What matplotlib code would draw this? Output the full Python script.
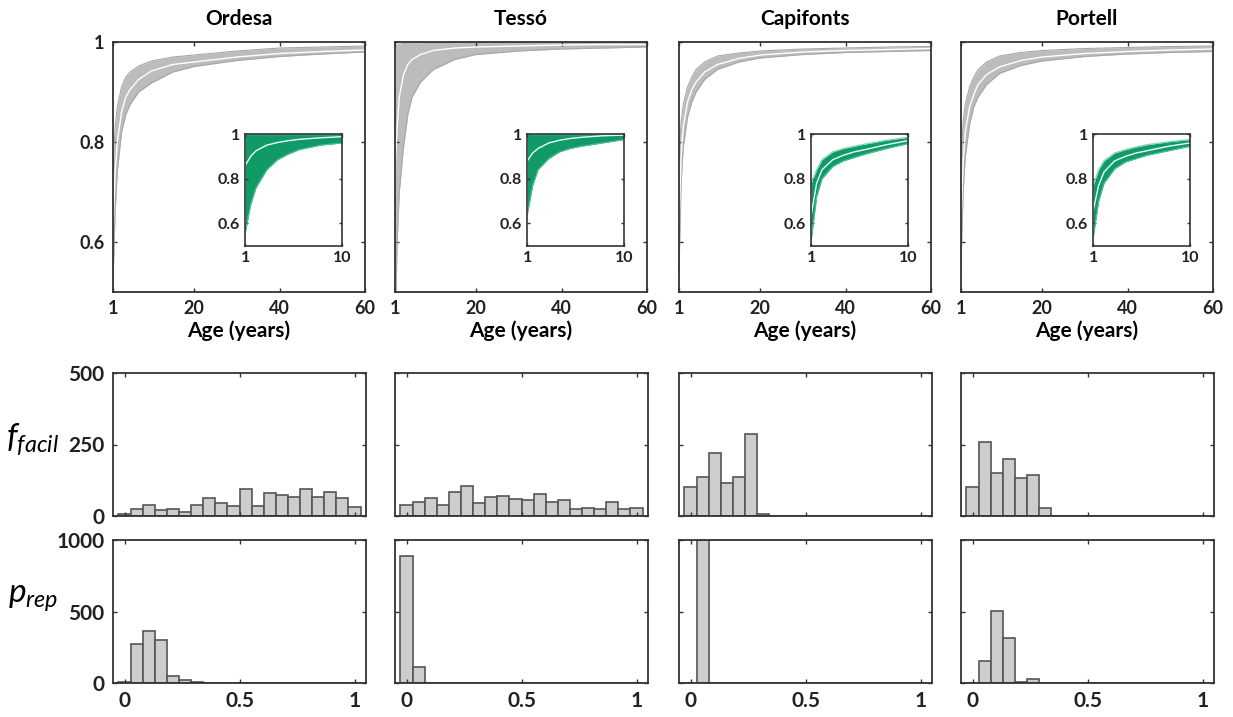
import numpy as np
import matplotlib
matplotlib.use('Agg')
import matplotlib.pyplot as plt

plt.rcParams['font.family'] = ['Lato', 'DejaVu Sans']
plt.rcParams['mathtext.fontset'] = 'custom'
plt.rcParams['mathtext.it'] = 'Lato:italic'
plt.rcParams['mathtext.rm'] = 'Lato'

sites = ['Ordesa', 'Tessó', 'Capifonts', 'Portell']

# survival curves (main panels)
ages_main = [1, 1.5, 2, 3, 4, 5, 7, 10, 15, 20, 30, 40, 50, 60]
main_upper = {
    'Ordesa':    [0.75, 0.83, 0.87, 0.91, 0.93, 0.94, 0.952, 0.962, 0.970, 0.974, 0.982, 0.988, 0.990, 0.992],
    'Tessó':     [0.99, 0.993, 0.995, 0.997, 0.998, 0.998, 0.999, 0.999, 0.999, 0.999, 0.999, 0.999, 0.999, 0.999],
    'Capifonts': [0.78, 0.84, 0.875, 0.91, 0.93, 0.945, 0.96, 0.972, 0.978, 0.982, 0.986, 0.988, 0.990, 0.991],
    'Portell':   [0.76, 0.84, 0.875, 0.91, 0.93, 0.945, 0.96, 0.972, 0.979, 0.983, 0.987, 0.989, 0.991, 0.992],
}
main_median = {
    'Ordesa':    [0.62, 0.74, 0.80, 0.86, 0.89, 0.905, 0.925, 0.942, 0.955, 0.960, 0.970, 0.977, 0.981, 0.984],
    'Tessó':     [0.74, 0.83, 0.89, 0.935, 0.955, 0.965, 0.975, 0.983, 0.988, 0.990, 0.992, 0.994, 0.995, 0.995],
    'Capifonts': [0.64, 0.77, 0.83, 0.88, 0.905, 0.92, 0.94, 0.955, 0.967, 0.974, 0.980, 0.983, 0.985, 0.987],
    'Portell':   [0.64, 0.76, 0.82, 0.87, 0.895, 0.915, 0.935, 0.95, 0.963, 0.97, 0.977, 0.981, 0.984, 0.986],
}
main_lower = {
    'Ordesa':    [0.52, 0.66, 0.74, 0.82, 0.855, 0.875, 0.90, 0.918, 0.94, 0.951, 0.963, 0.971, 0.976, 0.980],
    'Tessó':     [0.40, 0.60, 0.70, 0.79, 0.855, 0.89, 0.92, 0.945, 0.965, 0.975, 0.982, 0.986, 0.988, 0.990],
    'Capifonts': [0.54, 0.72, 0.79, 0.85, 0.88, 0.90, 0.925, 0.945, 0.96, 0.968, 0.975, 0.979, 0.981, 0.983],
    'Portell':   [0.55, 0.70, 0.77, 0.835, 0.87, 0.89, 0.915, 0.937, 0.953, 0.962, 0.971, 0.976, 0.979, 0.981],
}

# insets (first 10 years)
ages_in = [1, 1.5, 2, 3, 4, 5, 6, 8, 10]
in_upper = {
    'Ordesa':    [1.0, 1.0, 1.0, 1.0, 1.0, 1.0, 1.0, 1.0, 1.0],
    'Tessó':     [1.0, 1.0, 1.0, 1.0, 1.0, 1.0, 1.0, 1.0, 1.0],
    'Capifonts': [0.78, 0.84, 0.885, 0.92, 0.935, 0.945, 0.955, 0.972, 0.985],
    'Portell':   [0.77, 0.84, 0.88, 0.915, 0.93, 0.942, 0.952, 0.965, 0.975],
}
in_median = {
    'Ordesa':    [0.86, 0.90, 0.925, 0.95, 0.962, 0.97, 0.976, 0.983, 0.988],
    'Tessó':     [0.88, 0.915, 0.935, 0.96, 0.972, 0.98, 0.985, 0.992, 0.995],
    'Capifonts': [0.64, 0.78, 0.84, 0.885, 0.905, 0.92, 0.93, 0.952, 0.97],
    'Portell':   [0.66, 0.77, 0.83, 0.88, 0.90, 0.915, 0.925, 0.945, 0.96],
}
in_lower = {
    'Ordesa':    [0.56, 0.685, 0.76, 0.84, 0.885, 0.91, 0.93, 0.95, 0.96],
    'Tessó':     [0.64, 0.77, 0.84, 0.89, 0.92, 0.935, 0.945, 0.96, 0.975],
    'Capifonts': [0.53, 0.72, 0.80, 0.855, 0.88, 0.895, 0.91, 0.935, 0.957],
    'Portell':   [0.54, 0.70, 0.78, 0.845, 0.875, 0.89, 0.905, 0.925, 0.945],
}

# histograms, 20 bins centred on 0 ... 1
bin_centers = np.linspace(0, 1, 20)
f_facil = {
    'Ordesa':    [8, 26, 37, 22, 26, 14, 40, 63, 47, 34, 94, 34, 80, 74, 66, 95, 68, 84, 63, 32],
    'Tessó':     [37, 49, 64, 40, 84, 104, 46, 67, 69, 60, 55, 77, 50, 56, 23, 29, 23, 49, 23, 29],
    'Capifonts': [100, 137, 220, 117, 138, 288, 8, 0, 0, 0, 0, 0, 0, 0, 0, 0, 0, 0, 0, 0],
    'Portell':   [103, 259, 149, 198, 132, 145, 27, 0, 0, 0, 0, 0, 0, 0, 0, 0, 0, 0, 0, 0],
}
p_rep = {
    'Ordesa':    [4, 274, 363, 298, 47, 21, 5, 2, 0, 0, 0, 0, 0, 0, 0, 0, 0, 0, 0, 0],
    'Tessó':     [890, 115, 0, 0, 0, 0, 0, 0, 0, 0, 0, 0, 0, 0, 0, 0, 0, 0, 0, 0],
    'Capifonts': [0, 1000, 0, 0, 0, 0, 0, 0, 0, 0, 0, 0, 0, 0, 0, 0, 0, 0, 0, 0],
    'Portell':   [0, 152, 501, 316, 10, 25, 3, 0, 0, 0, 0, 0, 0, 0, 0, 0, 0, 0, 0, 0],
}

W, H = 1233, 717
fig = plt.figure(figsize=(W / 100, H / 100), dpi=100)

def px_axes(left, top, right, bottom):
    return fig.add_axes([left / W, 1 - bottom / H, (right - left) / W, (bottom - top) / H])

def style(ax, lw=1.3):
    for s in ax.spines.values():
        s.set_color('#333333')
        s.set_linewidth(lw)
    ax.tick_params(direction='in', length=3, width=1, top=True, right=True,
                   colors='#333333', labelcolor='#222222', pad=6)

lefts = [113, 395, 679, 961]
width = 252
gray_band = '#bcbcbc'
green = '#0f9a68'

for i, site in enumerate(sites):
    left = lefts[i]
    # survival curves
    ax = px_axes(left, 42, left + width, 292)
    ax.fill_between(ages_main, main_lower[site], main_upper[site], color=gray_band, lw=0)
    ax.plot(ages_main, main_upper[site], color='#a8a8a8', lw=0.8)
    ax.plot(ages_main, main_lower[site], color='#a8a8a8', lw=0.8)
    ax.plot(ages_main, main_median[site], color='white', lw=1.0)
    ax.set_xlim(1, 60)
    ax.set_ylim(0.5, 1.0)
    ax.set_xticks([1, 20, 40, 60])
    ax.set_yticks([0.6, 0.8, 1.0])
    ax.set_xticklabels(['1', '20', '40', '60'], fontsize=13, fontweight='bold')
    if i == 0:
        ax.set_yticklabels(['0.6', '0.8', '1'], fontsize=13, fontweight='bold')
    else:
        ax.set_yticklabels([])
    ax.set_xlabel('Age (years)', fontsize=15, fontweight='bold', labelpad=2)
    ax.set_title(site, fontsize=15, fontweight='bold', pad=12)
    style(ax)

    # inset
    ins = ax.inset_axes([0.525, 0.185, 0.383, 0.447])
    ins.fill_between(ages_in, in_lower[site], in_upper[site], color=green, lw=0)
    ins.plot(ages_in, in_upper[site], color='#7fd3b2', lw=0.9)
    ins.plot(ages_in, in_lower[site], color='#4cc092', lw=0.8)
    ins.plot(ages_in, in_median[site], color='#e8fff4', lw=1.0)
    ins.set_xlim(1, 10)
    ins.set_ylim(0.5, 1.0)
    ins.set_xticks([1, 10])
    ins.set_yticks([0.6, 0.8, 1.0])
    ins.set_xticklabels(['1', '10'], fontsize=11.5, fontweight='bold')
    ins.set_yticklabels(['0.6', '0.8', '1'], fontsize=11.5, fontweight='bold')
    style(ins, lw=1.2)
    ins.tick_params(length=2, pad=4)

    # f_facil histogram
    ax2 = px_axes(left, 373, left + 253, 516)
    ax2.bar(bin_centers, f_facil[site], width=1 / 19, color='#cdcdcd',
            edgecolor='#555555', linewidth=1.2)
    ax2.set_xlim(-0.05, 1.05)
    ax2.set_ylim(0, 500)
    ax2.set_xticks([0, 0.5, 1])
    ax2.set_yticks([0, 250, 500])
    ax2.set_xticklabels([])
    if i == 0:
        ax2.set_yticklabels(['0', '250', '500'], fontsize=15, fontweight='bold')
    else:
        ax2.set_yticklabels([])
    style(ax2)

    # p_rep histogram
    ax3 = px_axes(left, 540, left + 253, 683)
    ax3.bar(bin_centers, p_rep[site], width=1 / 19, color='#cdcdcd',
            edgecolor='#555555', linewidth=1.2)
    ax3.set_xlim(-0.05, 1.05)
    ax3.set_ylim(0, 1000)
    ax3.set_xticks([0, 0.5, 1])
    ax3.set_yticks([0, 500, 1000])
    ax3.set_xticklabels(['0', '0.5', '1'], fontsize=15, fontweight='bold')
    if i == 0:
        ax3.set_yticklabels(['0', '500', '1000'], fontsize=15, fontweight='bold')
    else:
        ax3.set_yticklabels([])
    style(ax3)

fig.text(33 / W, 1 - 440 / H, r'$f_{facil}$', fontsize=24, ha='center', va='center')
fig.text(33 / W, 1 - 598 / H, r'$p_{rep}$', fontsize=24, ha='center', va='center')

fig.savefig('out.png', dpi=100)
